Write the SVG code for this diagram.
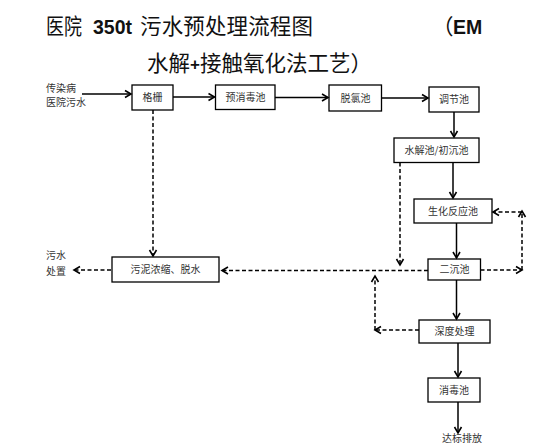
<svg xmlns="http://www.w3.org/2000/svg" width="554" height="448" viewBox="0 0 554 448">
<defs>
<marker id="ah" markerUnits="userSpaceOnUse" markerWidth="10" markerHeight="10" viewBox="0 0 10 10" refX="8" refY="5" orient="auto">
<path d="M2,1.5 L8,5 L2,8.5" fill="none" stroke="#000" stroke-width="1.6"/>
</marker>
</defs>
<style>
.t{font-family:"Noto Sans CJK SC","Noto Sans",sans-serif;fill:#111}
.b{font-family:"Liberation Sans","Open Sans",sans-serif;font-weight:bold;fill:#111}
.n rect{fill:#fff;stroke:#000;stroke-width:1.3}
.n text,.lbl{font-family:"Noto Sans CJK SC","Noto Sans",sans-serif;font-size:10px;fill:#333;text-anchor:middle}
.lbl{text-anchor:start}
.s{stroke:#000;stroke-width:1.5;fill:none;marker-end:url(#ah)}
.d{stroke:#000;stroke-width:1.5;fill:none;stroke-dasharray:4 2.5;marker-end:url(#ah)}
</style>
<rect width="554" height="448" fill="#fff"/>
<g id="title">
<text class="t" x="46" y="34" font-size="21.5" textLength="36" lengthAdjust="spacingAndGlyphs">医院</text>
<text class="b" x="93" y="34" font-size="19.5">350t</text>
<text class="t" x="140" y="34" font-size="21.5" textLength="173">污水预处理流程图</text>
<text class="t" x="432" y="34" font-size="21.5">（</text>
<text class="b" x="453" y="34" font-size="19.5">EM</text>
<text class="t" x="147" y="71" font-size="21.5">水解<tspan class="b" font-size="17" dy="-1">+</tspan><tspan dy="1">接触氧化法工艺）</tspan></text>
</g>
<g id="src">
<text class="lbl" x="46" y="91.5">传染病</text>
<text class="lbl" x="46" y="106">医院污水</text>
</g>
<g id="out1">
<text class="lbl" x="46" y="259">污水</text>
<text class="lbl" x="46" y="274.5">处置</text>
</g>
<g id="out2">
<text class="lbl" x="442" y="441.5">达标排放</text>
</g>
<g id="n1" class="n"><rect x="132" y="85" width="41" height="25"/><text x="152.5" y="101">格栅</text></g>
<g id="n2" class="n"><rect x="215.5" y="85" width="59.5" height="24.5"/><text x="245.5" y="101">预消毒池</text></g>
<g id="n3" class="n"><rect x="329" y="85" width="52.5" height="26"/><text x="355.5" y="101.5">脱氯池</text></g>
<g id="n4" class="n"><rect x="429" y="87" width="50" height="25"/><text x="454" y="103">调节池</text></g>
<g id="n5" class="n"><rect x="394" y="138" width="85" height="24.5"/><text x="436.5" y="154">水解池/初沉池</text></g>
<g id="n6" class="n"><rect x="414" y="199" width="78" height="24"/><text x="453" y="214.5">生化反应池</text></g>
<g id="n7" class="n"><rect x="428" y="259" width="52.5" height="21"/><text x="454.5" y="273">二沉池</text></g>
<g id="n8" class="n"><rect x="112" y="257" width="107" height="25"/><text x="165.5" y="273">污泥浓缩、脱水</text></g>
<g id="n9" class="n"><rect x="419" y="320" width="71" height="23"/><text x="454.5" y="335">深度处理</text></g>
<g id="n10" class="n"><rect x="428" y="378" width="52" height="24"/><text x="454" y="393.5">消毒池</text></g>
<g id="connectors">
<line class="s" x1="82" y1="94" x2="131" y2="94"/>
<line class="s" x1="173" y1="97" x2="214.5" y2="97"/>
<line class="s" x1="275" y1="97.5" x2="328" y2="97.5"/>
<line class="s" x1="381.5" y1="98" x2="428" y2="98"/>
<line class="s" x1="454" y1="112" x2="454" y2="137"/>
<line class="s" x1="453" y1="162.5" x2="453" y2="198"/>
<line class="s" x1="456.5" y1="223" x2="456.5" y2="258"/>
<line class="s" x1="456.5" y1="280" x2="456.5" y2="319"/>
<line class="s" x1="458" y1="343" x2="458" y2="377"/>
<line class="s" x1="458" y1="402" x2="458" y2="433"/>
<line class="d" x1="153" y1="110" x2="153" y2="256"/>
<line class="d" x1="111" y1="270" x2="74" y2="270"/>
<line class="d" x1="428" y1="270.5" x2="222" y2="270.5"/>
<line class="d" x1="400" y1="162.5" x2="400" y2="265"/>
<line class="d" x1="480.5" y1="270" x2="522" y2="270"/>
<line class="d" x1="522" y1="270" x2="522" y2="211"/>
<line class="d" x1="522" y1="212" x2="493" y2="212"/>
<line class="d" x1="419" y1="330" x2="375" y2="330"/>
<line class="d" x1="375" y1="330" x2="375" y2="276"/>
</g>
</svg>
